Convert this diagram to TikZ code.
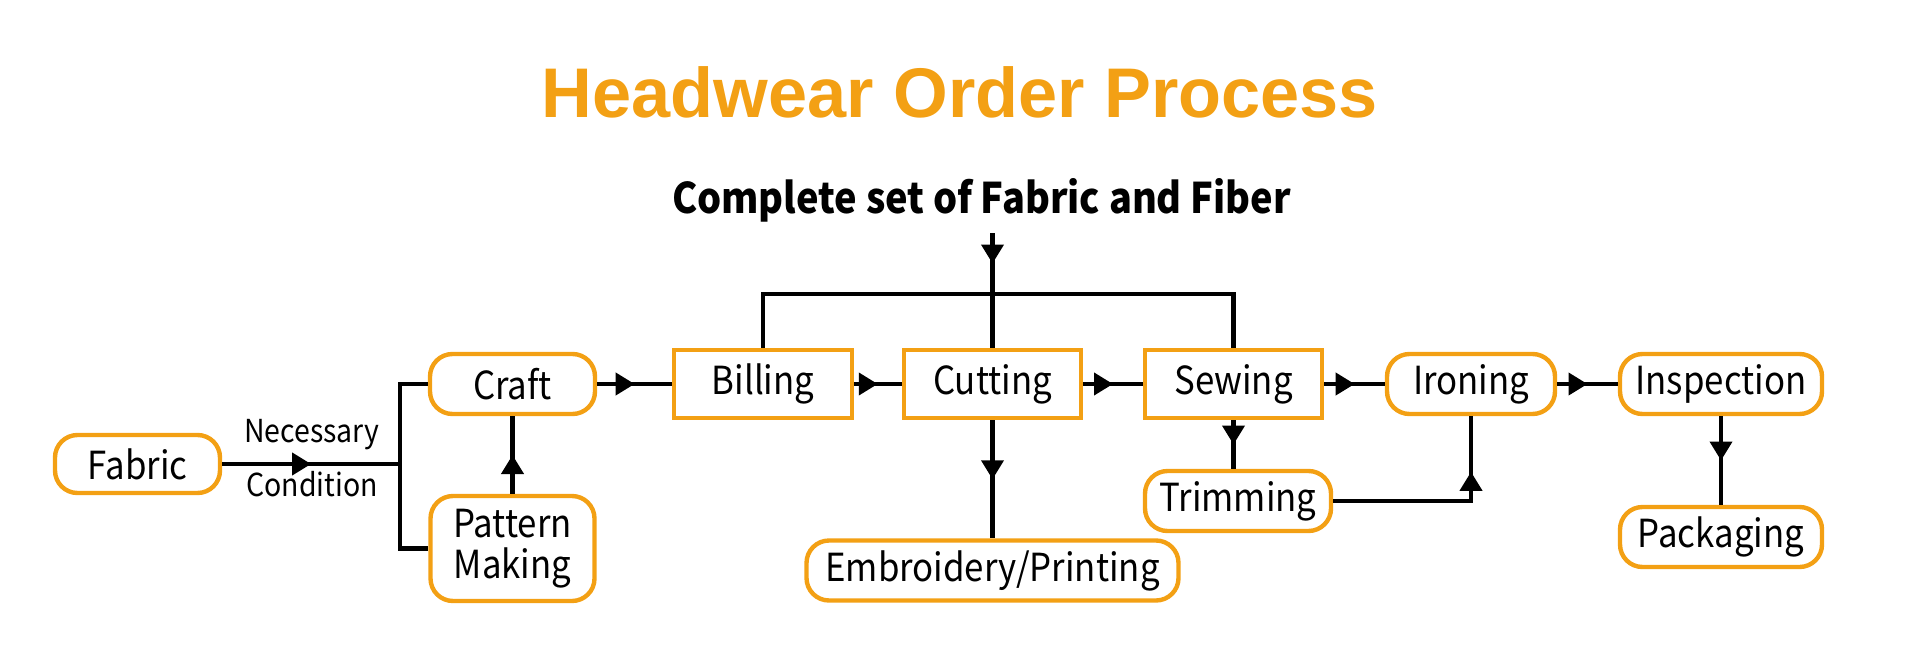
\documentclass[tikz,border=0pt]{standalone}
\usepackage{fontspec}
\setmainfont{Noto Sans CJK SC}[FakeStretch=0.9]
\newfontfamily\titlefont{Liberation Sans}
\usetikzlibrary{arrows.meta, decorations.markings}
\definecolor{hworange}{RGB}{243,160,20}

\begin{document}
\begin{tikzpicture}[
    procbox/.style={rectangle, draw=hworange, line width=2.5pt, minimum width=3.55cm, minimum height=1.36cm, font=\fontsize{22}{23}\selectfont, inner sep=2pt},
    pillbox/.style={procbox, rounded corners=0.45cm, minimum height=1.2cm},
    note/.style={font=\fontsize{18}{20}\selectfont, inner sep=0pt},
    link/.style={draw, line width=2.3pt},
    flow/.style={link, postaction={decorate}, decoration={markings, mark=at position #1 with {\arrow{Triangle[length=0.38cm, width=0.44cm]}}}},
    flow/.default=0.5
]
\useasboundingbox (0,0) rectangle (38.4,12.98);

% Headings
\node[font=\titlefont\bfseries\fontsize{40}{44}\selectfont, text=hworange] (title) at (19.2,11.14) {Headwear Order Process};
\node[font=\bfseries\fontsize{24}{26}\selectfont] (source) at (19.63,8.98) {Complete set of Fabric and Fiber};

% Main process row
\node[pillbox, minimum width=3.3cm] (craft) at (10.25,5.3) {Craft};
\node[procbox] (billing) at (15.26,5.3) {Billing};
\node[procbox] (cutting) at (19.85,5.3) {Cutting};
\node[procbox] (sewing) at (24.67,5.3) {Sewing};
\node[pillbox, minimum width=3.36cm] (ironing) at (29.42,5.3) {Ironing};
\node[pillbox, minimum width=4.04cm] (inspect) at (34.42,5.3) {Inspection};

% Side steps
\node[pillbox, minimum width=3.3cm, minimum height=1.16cm] (fabric) at (2.75,3.7) {Fabric};
\node[pillbox, minimum width=3.28cm, minimum height=2.1cm, align=center] (pattern) at (10.25,2.01) {Pattern\\Making};
\node[pillbox, minimum width=3.72cm] (trimming) at (24.76,2.96) {Trimming};
\node[pillbox, minimum width=7.44cm] (embroid) at (19.85,1.57) {Embroidery/Printing};
\node[pillbox, minimum width=4.04cm] (packing) at (34.42,2.24) {Packaging};

% Condition label
\node[note] (necess) at (6.24,4.28) {Necessary};
\node[note] (cond) at (6.24,3.3) {Condition};

% Junction points
\coordinate (split) at (8.0,3.7);
\coordinate (feed) at (19.85,8.32);
\coordinate (bus) at (19.85,7.1);

% Fabric into craft and pattern making
\path (fabric) edge[flow] (split);
\draw[link] (craft.west) -| (split) |- (pattern.west);
\path (pattern) edge[flow] (craft);

% Main flow
\path (craft) edge[flow] (billing);
\path (billing) edge[flow] (cutting);
\path (cutting) edge[flow] (sewing);
\path (sewing) edge[flow] (ironing);
\path (ironing) edge[flow] (inspect);

% Material feed from the top
\path (feed) edge[flow] (bus);
\draw[link] (billing.north) |- (bus) -| (sewing.north);
\path (bus) edge[link] (cutting);

% Branches below
\path (cutting) edge[flow] (embroid);
\path (sewing.south) edge[flow] (sewing.south |- trimming.north);
\draw[flow=0.75] (trimming.east) -| (ironing.south);
\path (inspect) edge[flow] (packing);

\end{tikzpicture}
\end{document}
